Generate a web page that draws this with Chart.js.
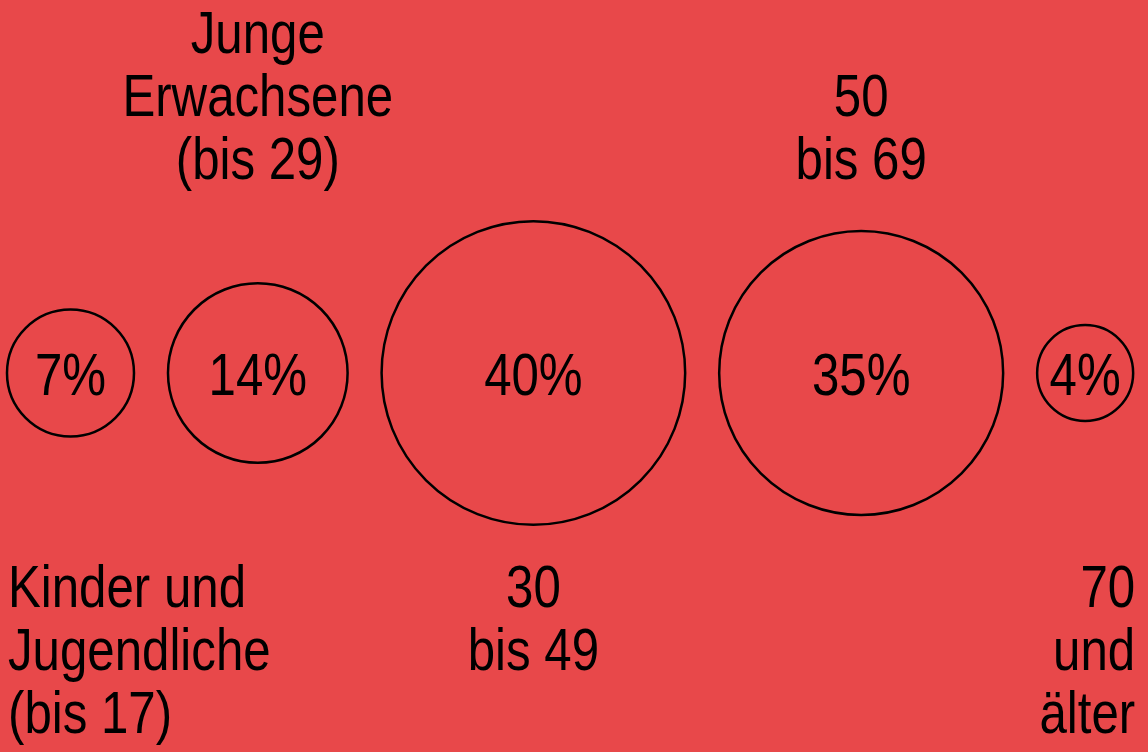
<!DOCTYPE html>
<html>
<head>
<meta charset="utf-8">
<script src="https://cdn.jsdelivr.net/npm/chart.js@4/dist/chart.umd.min.js"></script>
<style>
  html, body { margin: 0; padding: 0; background: #e8484a; }
  #wrap { width: 1148px; height: 752px; }
  canvas { display: block; }
</style>
</head>
<body>
<div id="wrap"><canvas id="c" width="1148" height="752"></canvas></div>
<script>
// ---- data ----
const categories = [
  ["Kinder und", "Jugendliche", "(bis 17)"],
  ["Junge", "Erwachsene", "(bis 29)"],
  ["30", "bis 49"],
  ["50", "bis 69"],
  ["70", "und", "älter"]
];
const shares = [7, 14, 40, 35, 4];
const valueLabels = ["7%", "14%", "40%", "35%", "4%"];

// ---- layout derived from data (bubbles packed left to right, area ~ share) ----
const K = 24;          // px radius per sqrt(percent)
const GAP = 34;        // px gap between circles
const START = 7;       // left margin
const radii = shares.map(v => K * Math.sqrt(v));
const centers = [];
let cursor = START;
radii.forEach(r => { centers.push(cursor + r); cursor += 2 * r + GAP; });

const bubbleData = shares.map((v, i) => ({ x: centers[i], y: 0, r: radii[i] }));

const FONT_SIZE = 60;
const LINE_H = 63;

// narrow font, with a horizontal-scale fallback if the narrow face is missing
function setupFont(ctx) {
  ctx.font = FONT_SIZE + 'px "Liberation Sans Narrow", "Arial Narrow"';
  const wNarrow = ctx.measureText('Kinder und').width;
  if (wNarrow > 0 && wNarrow < 250) return 1;
  ctx.font = FONT_SIZE + 'px "Liberation Sans", Arial, sans-serif';
  return 238 / ctx.measureText('Kinder und').width;
}

function drawText(ctx, t, x, y, align, sx) {
  ctx.save();
  ctx.translate(x, y);
  ctx.scale(sx, 1);
  ctx.textAlign = align;
  ctx.fillText(t, 0, 0);
  ctx.restore();
}

const labelPlugin = {
  id: 'labels',
  afterDatasetsDraw(chart) {
    const ctx = chart.ctx;
    const meta = chart.getDatasetMeta(0);
    ctx.save();
    ctx.fillStyle = '#000';
    const sx = setupFont(ctx);
    ctx.textBaseline = 'alphabetic';
    const cy = meta.data[0].y;
    meta.data.forEach((el, i) => {
      drawText(ctx, valueLabels[i], el.x, el.y + 22, 'center', sx);
      const lines = categories[i];
      const r = el.options.radius;
      let align = 'center', x = el.x;
      if (i === 0) { align = 'left'; x = el.x - r + 1; }
      else if (i === meta.data.length - 1) { align = 'right'; x = el.x + r + 2; }
      if (i % 2 === 0) {
        const firstBase = cy + 234;
        lines.forEach((t, j) => drawText(ctx, t, x, firstBase + j * LINE_H, align, sx));
      } else {
        const lastBase = cy - 194;
        lines.forEach((t, j) => drawText(ctx, t, x, lastBase - (lines.length - 1 - j) * LINE_H, align, sx));
      }
    });
    ctx.restore();
  }
};

new Chart(document.getElementById('c'), {
  type: 'bubble',
  data: {
    datasets: [{
      data: bubbleData,
      backgroundColor: 'rgba(0,0,0,0)',
      borderColor: '#000',
      borderWidth: 2.5,
      hoverBorderWidth: 2.5,
      clip: false
    }]
  },
  options: {
    responsive: false,
    animation: false,
    events: [],
    layout: { autoPadding: false, padding: { left: 0, right: 0, top: 0, bottom: 6 } },
    scales: {
      x: { type: 'linear', display: false, min: 0, max: 1148 },
      y: { type: 'linear', display: false, min: -1, max: 1 }
    },
    plugins: { legend: { display: false }, tooltip: { enabled: false } }
  },
  plugins: [labelPlugin]
});
</script>
</body>
</html>
